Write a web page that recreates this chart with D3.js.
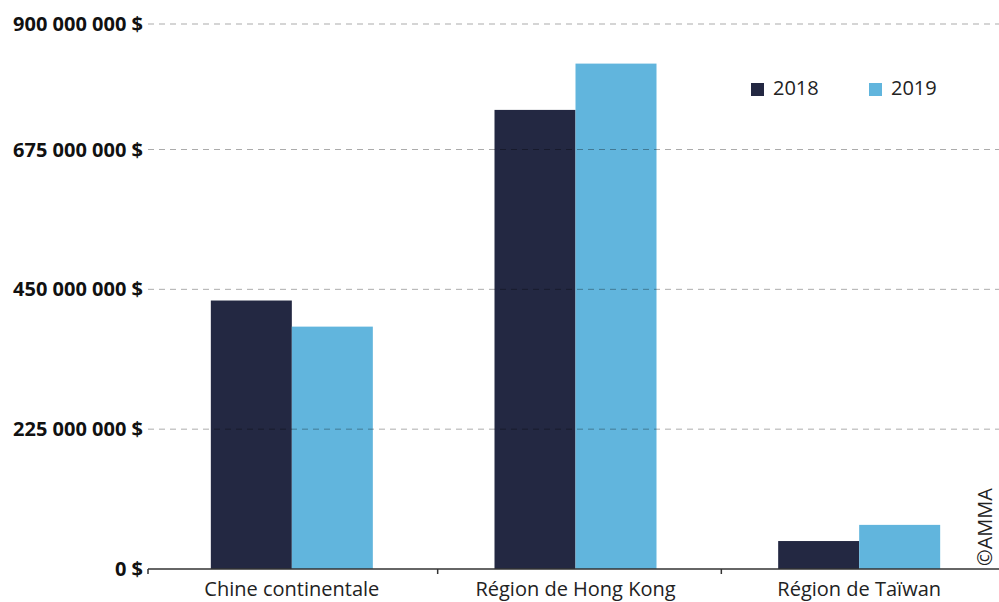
<!DOCTYPE html>
<html><head><meta charset="utf-8">
<script src="https://cdn.jsdelivr.net/npm/d3@7"></script>
<style>
html,body{margin:0;padding:0;background:#fff;}
svg{display:block;font-family:"Open Sans",sans-serif;}
</style></head>
<body><svg id="chart" width="999" height="602"></svg>
<script>
const categories = ["Chine continentale", "Région de Hong Kong", "Région de Taïwan"];
const seriesNames = ["2018", "2019"];
const values2018 = [432e6, 746e6, 45e6];
const values2019 = [390e6, 829e6, 71e6];
const yTicks = [0, 225e6, 450e6, 675e6, 900e6];
const colors = ["#232842", "#61b5dd"];

const svg = d3.select("#chart");
const x0 = d3.scaleBand().domain(categories).range([150, 1001]).padding(0);
const barW = 81;
const x1 = d3.scaleBand().domain(seriesNames)
  .range([x0.bandwidth()/2 - barW, x0.bandwidth()/2 + barW]).padding(0);
const y = d3.scaleLinear().domain([0, 675e6, 900e6]).range([569, 149.5, 24]);

const fmt = v => d3.format(",")(v).replace(/,/g, " ") + " $";

const data = categories.map((c, i) => ({cat: c, vals: [values2018[i], values2019[i]]}));

// bars
const g = svg.append("g");
data.forEach(d => {
  seriesNames.forEach((s, j) => {
    g.append("rect")
      .attr("x", x0(d.cat) + x1(s))
      .attr("y", y(d.vals[j]))
      .attr("width", x1.bandwidth())
      .attr("height", y(0) - y(d.vals[j]))
      .attr("fill", colors[j]);
  });
});

// gridlines
svg.append("g").selectAll("line").data(yTicks.filter(t => t > 0)).join("line")
  .attr("x1", 148).attr("x2", 999)
  .attr("y1", d => y(d)).attr("y2", d => y(d))
  .attr("stroke", "rgba(0,0,0,0.33)").attr("stroke-width", 1)
  .attr("stroke-dasharray", "6,5");

// y labels
svg.append("g").selectAll("text").data(yTicks).join("text")
  .attr("x", 143).attr("y", d => y(d)).attr("dy", "0.35em")
  .attr("text-anchor", "end").attr("font-size", 20).attr("font-weight", 700)
  .attr("fill", "#111").text(fmt);

// x axis
const xAxis = d3.axisBottom(x0).tickSize(0).tickSizeOuter(0);
const ax = svg.append("g").attr("transform", `translate(0,${y(0)})`).call(xAxis);
ax.select(".domain").remove();
ax.append("line").attr("x1", 148).attr("x2", 999).attr("y1", 0).attr("y2", 0)
  .attr("stroke", "#333").attr("stroke-width", 1.5);
ax.selectAll(".tick text").attr("font-size", 20).attr("fill", "#222")
  .attr("font-family", "Open Sans").attr("y", 0).attr("dy", "1.35em");
// band boundary ticks
ax.append("g").selectAll("line").data(categories).join("line")
  .attr("x1", (d, i) => i === 0 ? 148 : x0(d) + 4).attr("x2", (d, i) => i === 0 ? 148 : x0(d) + 4)
  .attr("y1", 0).attr("y2", 5).attr("stroke", "#333").attr("stroke-width", 1.5);

// legend
const leg = svg.append("g");
const legX = [751, 869];
seriesNames.forEach((s, j) => {
  leg.append("rect").attr("x", legX[j]).attr("y", 83).attr("width", 13).attr("height", 13).attr("fill", colors[j]);
  leg.append("text").attr("x", legX[j] + 22).attr("y", 95).attr("font-size", 20).attr("fill", "#222").text(s);
});

// copyright
svg.append("text").attr("transform", "translate(992,566) rotate(-90)")
  .attr("font-size", 20).attr("fill", "#222").text("©AMMA");
</script></body></html>
